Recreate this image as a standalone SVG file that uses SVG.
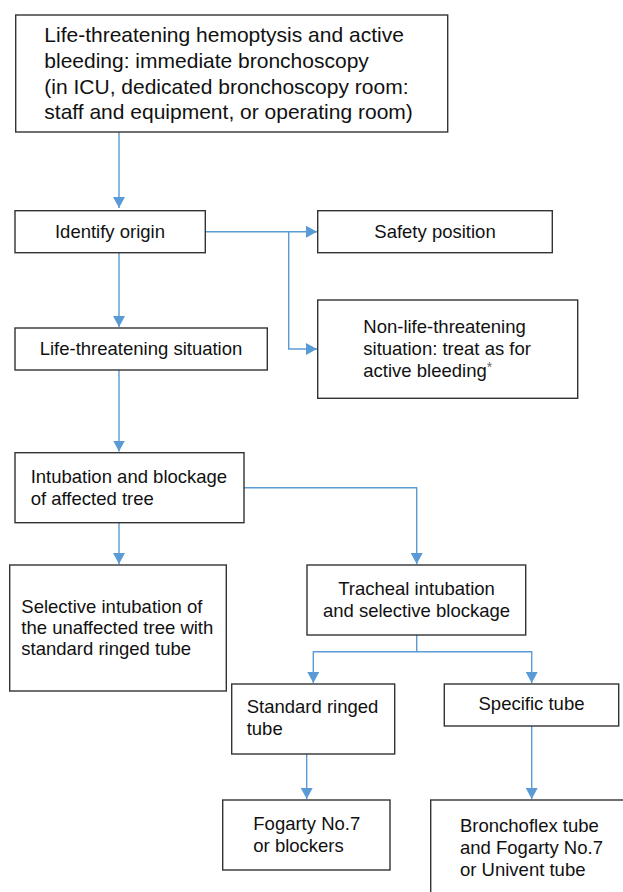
<svg xmlns="http://www.w3.org/2000/svg" width="623" height="892" viewBox="0 0 623 892">
<defs>
<marker id="ah" markerUnits="userSpaceOnUse" markerWidth="12" markerHeight="12" refX="11" refY="6" orient="auto">
<path d="M0,0 L11,6 L0,12 z" fill="#5b9bd5"/>
</marker>
<style>
.box{fill:#fff;stroke:#333;stroke-width:1.4}
.t{font-family:"Liberation Sans",Arial,sans-serif;font-size:18.5px;fill:#111}
.big{font-size:21px}
.c{text-anchor:middle}
.con{fill:none;stroke:#5b9bd5;stroke-width:1.4}
.sup{font-size:14px;fill:#666}
</style>
</defs>
<rect width="623" height="892" fill="#fff"/>
<g id="connectors">
<path class="con" d="M119,132 V208" marker-end="url(#ah)"/>
<path class="con" d="M205.3,231.7 H317" marker-end="url(#ah)"/>
<path class="con" d="M288.7,231.7 V349 H317" marker-end="url(#ah)"/>
<path class="con" d="M119,252.7 V327" marker-end="url(#ah)"/>
<path class="con" d="M119,370 V451.5" marker-end="url(#ah)"/>
<path class="con" d="M119,522.7 V564" marker-end="url(#ah)"/>
<path class="con" d="M244,487.7 H416.7 V564" marker-end="url(#ah)"/>
<path class="con" d="M416.7,635 V651.7 H313.3 V683" marker-end="url(#ah)"/>
<path class="con" d="M416.7,651.7 H531.7 V683" marker-end="url(#ah)"/>
<path class="con" d="M306.7,754 V799" marker-end="url(#ah)"/>
<path class="con" d="M531.7,726 V799" marker-end="url(#ah)"/>
</g>
<g id="n-start">
<rect class="box" x="15.7" y="15" width="432" height="117"/>
<text class="t big" x="44.3" y="42.3">Life-threatening hemoptysis and active</text>
<text class="t big" x="44.3" y="68">bleeding: immediate bronchoscopy</text>
<text class="t big" x="44.3" y="93.5">(in ICU, dedicated bronchoscopy room:</text>
<text class="t big" x="44.3" y="119">staff and equipment, or operating room)</text>
</g>
<g id="n-identify">
<rect class="box" x="15" y="210.7" width="190.3" height="42"/>
<text class="t c" x="110" y="238">Identify origin</text>
</g>
<g id="n-safety">
<rect class="box" x="317.7" y="210.7" width="234.6" height="42"/>
<text class="t c" x="435" y="238.3">Safety position</text>
</g>
<g id="n-nonlife">
<rect class="box" x="317.7" y="300" width="260" height="98.3"/>
<text class="t" x="363.3" y="332.7">Non-life-threatening</text>
<text class="t" x="363.3" y="355">situation: treat as for</text>
<text class="t" x="363.3" y="376.7">active bleeding<tspan class="sup" dy="-5">*</tspan></text>
</g>
<g id="n-life">
<rect class="box" x="15" y="328" width="252.3" height="42"/>
<text class="t c" x="141" y="355">Life-threatening situation</text>
</g>
<g id="n-intub">
<rect class="box" x="15" y="452.7" width="229" height="70"/>
<text class="t" x="30.7" y="483.3">Intubation and blockage</text>
<text class="t" x="30.7" y="505">of affected tree</text>
</g>
<g id="n-selective">
<rect class="box" x="9.7" y="565" width="216.6" height="126"/>
<text class="t" x="21.3" y="612.7">Selective intubation of</text>
<text class="t" x="21.3" y="634">the unaffected tree with</text>
<text class="t" x="21.3" y="655.3">standard ringed tube</text>
</g>
<g id="n-tracheal">
<rect class="box" x="307" y="565" width="218.7" height="70"/>
<text class="t c" x="416.5" y="595">Tracheal intubation</text>
<text class="t c" x="416.5" y="616.5">and selective blockage</text>
</g>
<g id="n-standard">
<rect class="box" x="231.7" y="684" width="163" height="70"/>
<text class="t" x="246.7" y="713.3">Standard ringed</text>
<text class="t" x="246.7" y="735">tube</text>
</g>
<g id="n-specific">
<rect class="box" x="444.3" y="684" width="174.4" height="42"/>
<text class="t c" x="531.5" y="710">Specific tube</text>
</g>
<g id="n-fogarty">
<rect class="box" x="222.7" y="800" width="167.3" height="70"/>
<text class="t" x="253.3" y="830">Fogarty No.7</text>
<text class="t" x="253.3" y="851.7">or blockers</text>
</g>
<g id="n-broncho">
<rect class="box" x="430.7" y="800" width="220" height="120"/>
<text class="t" x="460" y="831.7">Bronchoflex tube</text>
<text class="t" x="460" y="854">and Fogarty No.7</text>
<text class="t" x="460" y="876">or Univent tube</text>
</g>
</svg>
